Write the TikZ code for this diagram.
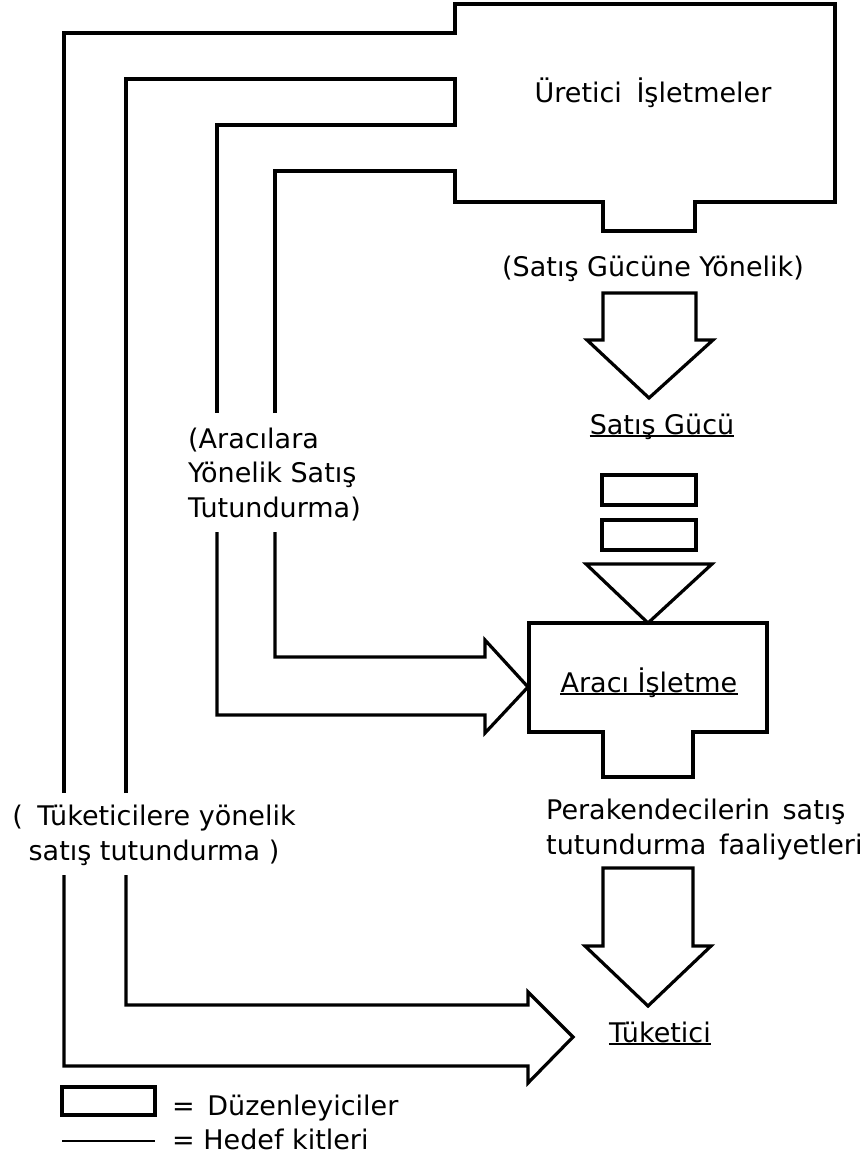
\documentclass[tikz,border=0pt]{standalone}
\usepackage{fontspec}
\setmainfont{DejaVu Sans}
\begin{document}
\begin{tikzpicture}[x=1pt,y=-1pt,
  outline/.style={draw=black, line width=3.2pt, line join=miter, fill=none},
  lbl/.style={font=\fontsize{27}{34.5}\selectfont, inner sep=0pt, text=black},
  uline/.style={draw=black, line width=1.8pt}]
\useasboundingbox (0,0) rectangle (865,1159);

% ---------- producer block with its two target bands ----------
% inner band (to Araci Isletme), lower part after the text gap
\draw[outline] (217,532) -- (217,715) -- (485,715) -- (485,733) -- (528,687)
  -- (485,640) -- (485,657) -- (275,657) -- (275,532);
% producer outline, inner-band right line and outer-band outer line
\draw[outline] (275,413) -- (275,171) -- (455,171) -- (455,202) -- (603,202)
  -- (603,231) -- (695,231) -- (695,202) -- (835,202) -- (835,4) -- (455,4)
  -- (455,33) -- (64,33) -- (64,793);
% outer band lower part with arrow to Tuketici
\draw[outline] (64,875) -- (64,1066) -- (528,1066) -- (528,1083) -- (573,1037)
  -- (528,992) -- (528,1005) -- (126,1005) -- (126,875);
% outer band inner line and inner band left line
\draw[outline] (126,793) -- (126,79) -- (455,79) -- (455,125) -- (217,125)
  -- (217,413);

% ---------- central column ----------
\draw[outline] (603,293) -- (696,293) -- (696,340) -- (713,340) -- (649,398)
  -- (587,340) -- (603,340) -- cycle;
\node[outline, minimum width=94pt, minimum height=30pt, inner sep=0pt] (duz1) at (649,490) {};
\node[outline, minimum width=94pt, minimum height=30pt, inner sep=0pt] (duz2) at (649,535) {};
\draw[outline] (586,564) -- (712,564) -- (648,623) -- cycle;
\draw[outline] (529,623) -- (767,623) -- (767,732) -- (693,732) -- (693,777)
  -- (603,777) -- (603,732) -- (529,732) -- cycle;
\draw[outline] (603,868) -- (693,868) -- (693,946) -- (711,946) -- (648,1006)
  -- (585,946) -- (603,946) -- cycle;

% ---------- texts ----------
\node[lbl, anchor=base] (uret) at (653,102) {Üretici\hspace{6pt} İşletmeler};
\node[lbl, anchor=base] (sgy) at (653,276) {(Satış Gücüne Yönelik)};
\node[lbl, anchor=base] (sg) at (662,434) {Satış Gücü};
\draw[uline] ([yshift=-2pt]sg.base west) -- ([yshift=-2pt]sg.base east);
\node[lbl, anchor=base] (araci) at (649,692) {Aracı İşletme};
\draw[uline] ([yshift=-2pt]araci.base west) -- ([yshift=-2pt]araci.base east);
\node[lbl, anchor=base] (tuk) at (660,1042) {Tüketici};
\draw[uline] ([yshift=-2pt]tuk.base west) -- ([yshift=-2pt]tuk.base east);
\node[lbl, anchor=base west, align=left] (perak) at (546,854)
  {Perakendecilerin\hspace{4pt} satış\\tutundurma\hspace{4pt} faaliyetleri};
\node[lbl, anchor=base west, align=left] (aracilara) at (188,517)
  {(Aracılara\\Yönelik Satış\\Tutundurma)};
\node[lbl, anchor=base, align=center] (tuketicilere) at (154,860)
  {(\hspace{6pt} Tüketicilere yönelik\\satış tutundurma )};

% ---------- legend ----------
\node[outline, minimum width=93pt, minimum height=28pt, inner sep=0pt] (legbox) at (108.5,1101) {};
\node[lbl, anchor=base west] (legbox-t) at (172,1115) {=\hspace{4pt} Düzenleyiciler};
\coordinate (legl-a) at (62,1141);
\coordinate (legl-b) at (155,1141);
\draw[line width=2.6pt] (legl-a) -- (legl-b);
\node[lbl, anchor=base west] (legline-t) at (172,1149) {= Hedef kitleri};
\end{tikzpicture}
\end{document}
